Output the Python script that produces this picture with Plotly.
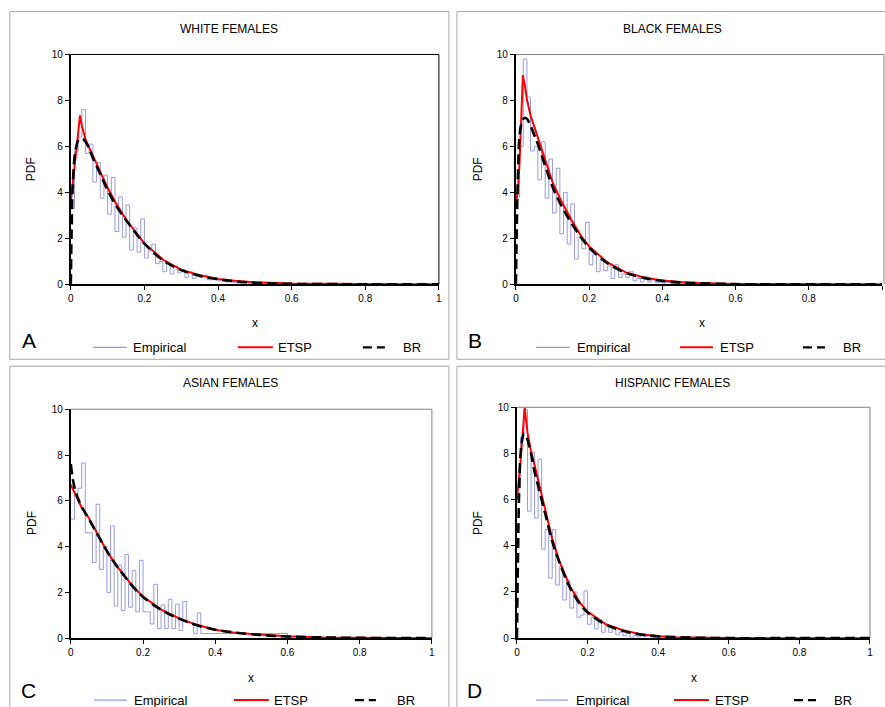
import plotly.graph_objects as go

# ---------------- data ----------------
TITLES = ["WHITE FEMALES", "BLACK FEMALES", "ASIAN FEMALES", "HISPANIC FEMALES"]
LETTERS = ["A", "B", "C", "D"]
X_TICKS = [0, 0.2, 0.4, 0.6, 0.8, 1]
X_TICK_LABELS = ["0", "0.2", "0.4", "0.6", "0.8", "1"]
Y_TICKS = [0, 2, 4, 6, 8, 10]
Y_TICK_LABELS = ["0", "2", "4", "6", "8", "10"]

# histogram bin left edges (width 0.01)
BIN_EDGES = [round(i / 100, 2) for i in range(101)]

EMP_A = [3.3, 5.8, 6.4, 7.6, 5.7, 6.1, 4.45, 5.3, 3.75, 4.75,
         3.05, 4.65, 2.3, 3.8, 2.05, 3.45, 1.5, 2.45, 1.4, 2.85,
         1.15, 1.45, 1.75, 0.9, 1.0, 0.55, 0.95, 0.45, 0.8, 0.5,
         0.65, 0.3, 0.55, 0.25, 0.35, 0.3, 0.4, 0.2, 0.2, 0.3,
         0.15, 0.15, 0.1, 0.12, 0.08, 0.06, 0.05, 0.06, 0.05, 0.04,
         0.05, 0.04, 0.03, 0.04, 0.03, 0.03, 0.02, 0.03, 0.02, 0.02,
         0.01, 0.01, 0.0, 0.0, 0.0, 0.0, 0.0, 0.0, 0.0, 0.0,
         0.0, 0.0, 0.0, 0.0, 0.0, 0.0, 0.0, 0.0, 0.0, 0.0,
         0.0, 0.0, 0.0, 0.0, 0.0, 0.0, 0.0, 0.0, 0.0, 0.0,
         0.0, 0.0, 0.0, 0.0, 0.0, 0.0, 0.0, 0.0, 0.0, 0.0]
EMP_B = [3.8, 6.0, 9.8, 8.15, 5.8, 6.0, 4.55, 6.2, 3.75, 5.45,
         3.1, 5.05, 2.2, 4.0, 1.75, 3.5, 1.1, 2.05, 1.55, 2.7,
         0.85, 1.3, 0.55, 1.05, 0.6, 0.8, 0.25, 0.85, 0.3, 0.45,
         0.3, 0.55, 0.15, 0.25, 0.1, 0.35, 0.1, 0.2, 0.08, 0.1,
         0.05, 0.08, 0.05, 0.04, 0.05, 0.03, 0.04, 0.03, 0.02, 0.03,
         0.03, 0.02, 0.02, 0.03, 0.02, 0.02, 0.02, 0.03, 0.02, 0.02,
         0.01, 0.0, 0.0, 0.0, 0.0, 0.0, 0.0, 0.0, 0.0, 0.0,
         0.0, 0.0, 0.0, 0.0, 0.0, 0.0, 0.0, 0.0, 0.0, 0.0,
         0.0, 0.0, 0.0, 0.0, 0.0, 0.0, 0.0, 0.0, 0.0, 0.0,
         0.0, 0.0, 0.0, 0.0, 0.0, 0.0, 0.0, 0.0, 0.0, 0.0]
EMP_C = [5.2, 6.3, 6.55, 7.65, 4.6, 4.6, 3.3, 5.85, 3.0, 4.0,
         2.0, 4.9, 1.4, 3.2, 1.2, 3.65, 1.35, 2.95, 1.15, 3.4,
         1.15, 1.15, 0.62, 2.35, 0.42, 1.45, 0.42, 1.7, 0.42, 1.48,
         0.33, 1.6, 0.68, 0.68, 0.2, 1.1, 0.2, 0.2, 0.2, 0.2,
         0.2, 0.2, 0.2, 0.2, 0.2, 0.2, 0.2, 0.2, 0.2, 0.2,
         0.2, 0.2, 0.2, 0.2, 0.2, 0.2, 0.2, 0.2, 0.2, 0.2,
         0.0, 0.0, 0.0, 0.0, 0.0, 0.0, 0.0, 0.0, 0.0, 0.0,
         0.0, 0.0, 0.0, 0.0, 0.0, 0.0, 0.0, 0.0, 0.0, 0.0,
         0.0, 0.0, 0.0, 0.0, 0.0, 0.0, 0.0, 0.0, 0.0, 0.0,
         0.0, 0.0, 0.0, 0.0, 0.0, 0.0, 0.0, 0.0, 0.0, 0.0]
EMP_D = [6.5, 8.7, 9.9, 5.5, 8.05, 5.2, 7.75, 3.85, 4.7, 2.6,
         4.7, 2.3, 3.1, 1.65, 2.5, 1.3, 2.0, 0.9, 1.0, 2.05,
         0.6, 0.9, 0.4, 0.8, 0.25, 0.55, 0.25, 0.4, 0.15, 0.25,
         0.1, 0.2, 0.05, 0.1, 0.05, 0.15, 0.08, 0.15, 0.05, 0.02,
         0.0, 0.0, 0.0, 0.0, 0.0, 0.0, 0.0, 0.0, 0.0, 0.0,
         0.0, 0.0, 0.0, 0.0, 0.0, 0.0, 0.0, 0.0, 0.0, 0.0,
         0.0, 0.0, 0.0, 0.0, 0.0, 0.0, 0.0, 0.0, 0.0, 0.0,
         0.0, 0.0, 0.0, 0.0, 0.0, 0.0, 0.0, 0.0, 0.0, 0.0,
         0.0, 0.0, 0.0, 0.0, 0.0, 0.0, 0.0, 0.0, 0.0, 0.0,
         0.0, 0.0, 0.0, 0.0, 0.0, 0.0, 0.0, 0.0, 0.0, 0.0]

ETSP_X_A = [0, 0.005, 0.01, 0.015, 0.02, 0.025, 0.03, 0.04, 0.05, 0.06, 0.08, 0.10, 0.12, 0.15,
            0.18, 0.20, 0.25, 0.30, 0.35, 0.40, 0.45, 0.50, 0.60, 0.70, 0.80, 0.90, 1.0]
ETSP_Y_A = [3.6, 4.4, 5.2, 5.95, 6.7, 7.35, 6.9, 6.3, 5.95, 5.6, 4.85, 4.2, 3.6, 2.82,
            2.2, 1.78, 1.08, 0.63, 0.4, 0.23, 0.15, 0.09, 0.04, 0.02, 0.01, 0.0, 0.0]
BR_X_A = [0, 0.002, 0.005, 0.01, 0.015, 0.02, 0.03, 0.04, 0.05, 0.06, 0.08, 0.10, 0.12, 0.15,
          0.18, 0.20, 0.25, 0.30, 0.35, 0.40, 0.45, 0.50, 0.60, 0.70, 0.80, 0.90, 1.0]
BR_Y_A = [0.0, 2.2, 4.2, 5.5, 6.0, 6.25, 6.35, 6.2, 5.9, 5.5, 4.8, 4.1, 3.5, 2.8,
          2.15, 1.77, 1.05, 0.62, 0.37, 0.22, 0.13, 0.07, 0.02, 0.01, 0.0, 0.0, 0.0]

ETSP_X_B = [0, 0.005, 0.01, 0.015, 0.019, 0.025, 0.03, 0.04, 0.05, 0.06, 0.08, 0.10, 0.12, 0.15,
            0.18, 0.20, 0.25, 0.30, 0.35, 0.40, 0.45, 0.50, 0.60, 0.70, 0.80, 0.90, 1.0]
ETSP_Y_B = [3.6, 4.0, 5.3, 7.3, 9.1, 8.6, 8.05, 7.35, 6.85, 6.35, 5.35, 4.45, 3.75, 2.85,
            2.05, 1.65, 0.95, 0.52, 0.3, 0.17, 0.1, 0.06, 0.02, 0.01, 0.0, 0.0, 0.0]
BR_X_B = [0, 0.003, 0.006, 0.01, 0.015, 0.02, 0.025, 0.03, 0.04, 0.05, 0.06, 0.08, 0.10, 0.12,
          0.15, 0.18, 0.20, 0.25, 0.30, 0.35, 0.40, 0.45, 0.50, 0.60, 0.70, 0.80, 1.0]
BR_Y_B = [0.0, 3.0, 5.0, 6.5, 7.0, 7.2, 7.25, 7.2, 6.9, 6.5, 6.1, 5.15, 4.25, 3.55,
          2.7, 2.0, 1.6, 0.92, 0.5, 0.28, 0.15, 0.08, 0.05, 0.01, 0.0, 0.0, 0.0]

ETSP_X_C = [0, 0.01, 0.02, 0.03, 0.05, 0.075, 0.10, 0.125, 0.15, 0.175, 0.20, 0.25, 0.30,
            0.35, 0.40, 0.45, 0.50, 0.55, 0.60, 0.70, 0.80, 0.90, 1.0]
ETSP_Y_C = [6.7, 6.35, 6.0, 5.7, 5.25, 4.5, 3.8, 3.2, 2.7, 2.2, 1.82, 1.25, 0.86,
            0.57, 0.37, 0.25, 0.18, 0.12, 0.08, 0.03, 0.01, 0.0, 0.0]
BR_X_C = [0, 0.005, 0.01, 0.02, 0.03, 0.05, 0.075, 0.10, 0.125, 0.15, 0.175, 0.20, 0.25,
          0.30, 0.35, 0.40, 0.45, 0.50, 0.55, 0.60, 0.70, 0.80, 0.90, 1.0]
BR_Y_C = [7.6, 7.0, 6.6, 6.1, 5.75, 5.2, 4.5, 3.8, 3.2, 2.68, 2.2, 1.8, 1.24,
          0.85, 0.56, 0.37, 0.25, 0.17, 0.11, 0.07, 0.03, 0.01, 0.0, 0.0]

ETSP_X_D = [0, 0.005, 0.01, 0.015, 0.022, 0.03, 0.04, 0.05, 0.06, 0.08, 0.10, 0.12, 0.15,
            0.18, 0.20, 0.25, 0.30, 0.35, 0.40, 0.45, 0.50, 0.60, 0.70, 0.80, 0.90, 1.0]
ETSP_Y_D = [6.0, 6.7, 7.6, 8.6, 10.0, 8.9, 8.1, 7.5, 6.85, 5.5, 4.3, 3.35, 2.25,
            1.5, 1.15, 0.62, 0.34, 0.17, 0.08, 0.04, 0.02, 0.01, 0.0, 0.0, 0.0, 0.0]
BR_X_D = [0, 0.003, 0.006, 0.01, 0.015, 0.02, 0.025, 0.03, 0.04, 0.05, 0.06, 0.08, 0.10,
          0.12, 0.15, 0.18, 0.20, 0.25, 0.30, 0.35, 0.40, 0.50, 0.60, 0.80, 1.0]
BR_Y_D = [0.0, 3.5, 6.2, 7.9, 8.6, 8.85, 8.8, 8.6, 8.0, 7.2, 6.6, 5.4, 4.2,
          3.3, 2.2, 1.45, 1.12, 0.6, 0.32, 0.16, 0.08, 0.02, 0.0, 0.0, 0.0]

EMPIRICAL = [EMP_A, EMP_B, EMP_C, EMP_D]
ETSP = [(ETSP_X_A, ETSP_Y_A), (ETSP_X_B, ETSP_Y_B), (ETSP_X_C, ETSP_Y_C), (ETSP_X_D, ETSP_Y_D)]
BR = [(BR_X_A, BR_Y_A), (BR_X_B, BR_Y_B), (BR_X_C, BR_Y_C), (BR_X_D, BR_Y_D)]

# ---------------- layout geometry (pixels, as seen in the target image) ----------------
W, H = 885, 707
AREAS = [(70, 438, 54, 284), (515, 883, 54, 284), (70, 431, 409, 638), (516, 869, 407, 638)]
BOXES = [(9, 448, 11, 359), (456, 895, 11, 359), (9, 448, 366, 725), (456, 895, 366, 725)]
TOP_COLORS = ["#000000", "#808080", "#808080", "#808080"]
TITLE_POS = [(228, 29), (672, 29), (230, 383), (672, 383)]
PDF_POS = [(31, 169), (477, 169), (31, 523), (477, 523)]
XLAB_POS = [(254, 323), (701, 323), (250, 678), (693, 678)]
LETTER_POS = [(28, 340), (474, 340), (28, 690), (474, 690)]
LEGENDS = [
    ([(92, 126, 130), (237, 272, 275), (362, 384, 400)], 347),
    ([(535, 569, 574), (679, 712, 717), (802, 824, 840)], 347),
    ([(93, 126, 131), (233, 268, 271), (354, 375, 394)], 700),
    ([(535, 567, 573), (673, 708, 712), (793, 815, 831)], 700),
]

# observed capture mapping (page px -> picture px): x' = 0.993x + 2.2, y' = 0.9836y + 5.5
SX, OX, SY, OY = 0.993, 2.2, 0.9836, 5.5

EMP_COLOR = "#9A9ADE"
FONT = "Liberation Sans, Arial, sans-serif"


def px(x):
    return ((x - OX) / SX) / W


def py(y):
    return 1 - ((y - OY) / SY) / H


fig = go.Figure()
shapes = []
annotations = []


def label(text, x, y, size=12, angle=0, anchor="center"):
    annotations.append(dict(text=text, xref="paper", yref="paper", x=px(x), y=py(y),
                            xanchor=anchor, yanchor="middle", showarrow=False,
                            textangle=angle,
                            font=dict(family=FONT, size=size, color="#000")))


for i in range(4):
    ax = "" if i == 0 else str(i + 1)
    xa, ya = "x" + ax, "y" + ax
    l, r, t, b = AREAS[i]

    emp = EMPIRICAL[i]
    fig.add_trace(go.Scatter(
        x=BIN_EDGES, y=emp + [emp[-1]], mode="lines", line_shape="hv",
        line=dict(color=EMP_COLOR, width=1), xaxis=xa, yaxis=ya,
        showlegend=False, hoverinfo="skip"))
    ex, ey = ETSP[i]
    fig.add_trace(go.Scatter(
        x=ex, y=ey, mode="lines", line=dict(color="#FF0000", width=2),
        xaxis=xa, yaxis=ya, showlegend=False))
    bx, by = BR[i]
    fig.add_trace(go.Scatter(
        x=bx, y=by, mode="lines", line_shape="spline",
        line=dict(color="#000000", width=2.6, dash="10px,5px"),
        xaxis=xa, yaxis=ya, showlegend=False))

    fig.layout["xaxis" + ax] = dict(
        domain=[max(0, px(l)), min(1, px(r))], anchor=ya, range=[0, 1],
        tickvals=X_TICKS, ticktext=X_TICK_LABELS, ticks="outside", ticklen=4,
        tickcolor="#000", showline=True, linecolor="#000", linewidth=1.5,
        showgrid=False, zeroline=False,
        tickfont=dict(family=FONT, size=10, color="#000"))
    fig.layout["yaxis" + ax] = dict(
        domain=[max(0, py(b)), min(1, py(t))], anchor=xa, range=[0, 10],
        tickvals=Y_TICKS, ticktext=Y_TICK_LABELS, ticks="outside", ticklen=4,
        tickcolor="#000", showline=True, linecolor="#000", linewidth=2,
        showgrid=False, zeroline=False,
        tickfont=dict(family=FONT, size=10, color="#000"))

    shapes.append(dict(type="line", xref="paper", yref="paper",
                       x0=px(l), x1=px(r), y0=py(t), y1=py(t),
                       line=dict(color=TOP_COLORS[i], width=1)))
    shapes.append(dict(type="line", xref="paper", yref="paper",
                       x0=px(r), x1=px(r), y0=py(t), y1=py(b),
                       line=dict(color=TOP_COLORS[i], width=1)))
    bl, br_, bt, bb = BOXES[i]
    shapes.append(dict(type="rect", xref="paper", yref="paper",
                       x0=px(bl), x1=px(br_), y0=py(bb), y1=py(bt),
                       line=dict(color="#A8A8A8", width=1), layer="below"))

    label(TITLES[i], *TITLE_POS[i], size=12)
    label("PDF", *PDF_POS[i], size=12, angle=-90)
    label("x", *XLAB_POS[i], size=12)
    label(LETTERS[i], *LETTER_POS[i], size=21)

    items, leg_y = LEGENDS[i]
    styles = [dict(color=EMP_COLOR, width=1.2),
              dict(color="#FF0000", width=2),
              dict(color="#000000", width=2.2, dash="9px,5px")]
    for name, (x0, x1, tx), st in zip(["Empirical", "ETSP", "BR"], items, styles):
        shapes.append(dict(type="line", xref="paper", yref="paper",
                           x0=px(x0), x1=px(x1), y0=py(leg_y), y1=py(leg_y),
                           line=st))
        label(name, tx, leg_y, size=13, anchor="left")

fig.update_layout(
    width=W, height=H, margin=dict(l=0, r=0, t=0, b=0),
    paper_bgcolor="#FFFFFF", plot_bgcolor="#FFFFFF",
    shapes=shapes, annotations=annotations, showlegend=False)

POST = ("document.documentElement.style.cssText='margin:0;padding:0;overflow:hidden;';"
        "document.body.style.cssText='margin:0;padding:0;overflow:hidden;';"
        "var gd=document.getElementById('{plot_id}');"
        "gd.style.position='fixed';gd.style.left='0px';gd.style.top='0px';")
fig.write_html("out.html", config={"displayModeBar": False}, post_script=POST)
